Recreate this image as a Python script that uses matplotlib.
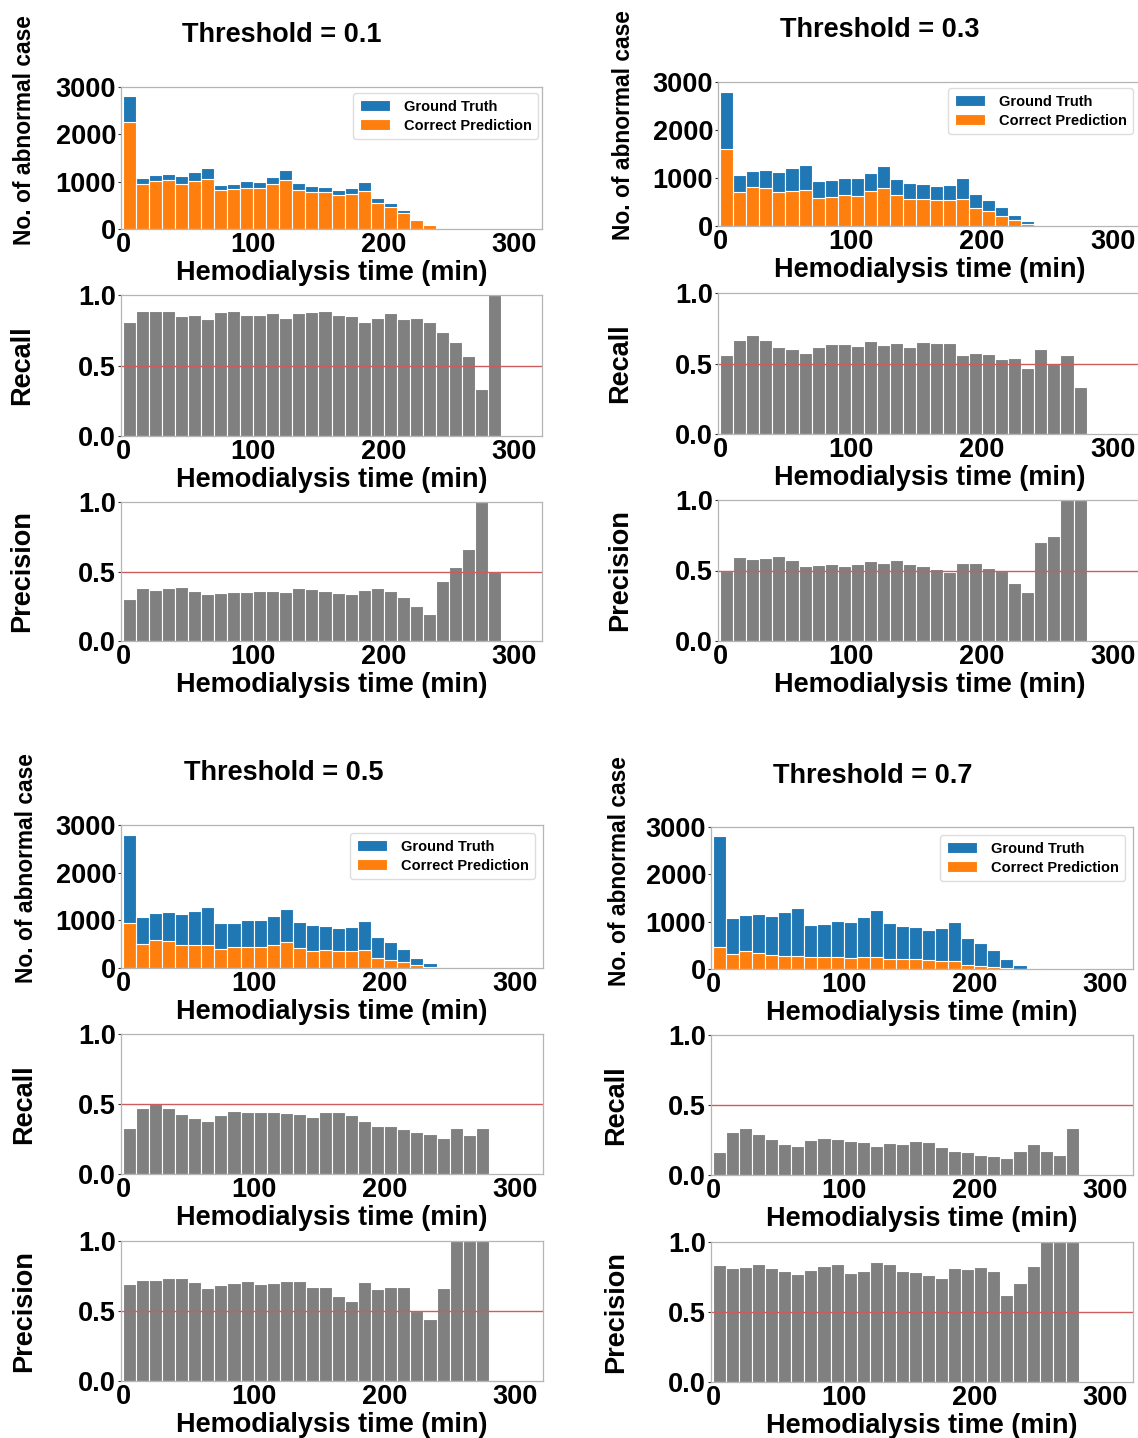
import numpy as np
import matplotlib
matplotlib.use("Agg")
import matplotlib.pyplot as plt

plt.rcParams["font.family"] = ["Liberation Sans", "DejaVu Sans"]
plt.rcParams["font.weight"] = "bold"

# ---- data: 10-minute bins of hemodialysis time ----
bin_width = 10
thresholds = [0.1, 0.3, 0.5, 0.7]

ground_truth = [2800, 1070, 1150, 1170, 1130, 1200, 1280, 940, 950, 1010,
                1000, 1100, 1240, 970, 900, 880, 830, 860, 990, 660,
                550, 400, 220, 95, 23, 9, 7, 3, 1]

correct_t01 = [2270, 950, 1010, 1030, 960, 1020, 1050, 820, 840, 860,
               860, 950, 1040, 830, 780, 780, 710, 730, 800, 550,
               475, 330, 185, 80, 17, 6, 4, 1, 1]
correct_t03 = [1610, 715, 810, 790, 715, 730, 745, 585, 610, 645,
               625, 730, 790, 640, 570, 560, 540, 540, 560, 380,
               310, 210, 120, 50, 14, 4, 4, 1, 0]
correct_t05 = [935, 500, 585, 565, 480, 480, 485, 400, 435, 450,
               450, 485, 550, 420, 365, 380, 360, 360, 380, 210,
               175, 120, 55, 20, 6, 3, 2, 1, 0]
correct_t07 = [455, 325, 385, 335, 290, 270, 270, 245, 255, 260,
               240, 260, 260, 220, 205, 210, 190, 175, 160, 90,
               70, 45, 30, 10, 5, 2, 1, 1, 0]

recall_t01 = [0.81, 0.89, 0.89, 0.89, 0.85, 0.86, 0.83, 0.88, 0.89, 0.86,
              0.86, 0.87, 0.84, 0.87, 0.88, 0.89, 0.86, 0.85, 0.81, 0.84,
              0.87, 0.83, 0.84, 0.81, 0.74, 0.67, 0.57, 0.33, 1.0]
recall_t03 = [0.56, 0.665, 0.70, 0.67, 0.62, 0.60, 0.575, 0.615, 0.635, 0.635,
              0.625, 0.66, 0.63, 0.645, 0.62, 0.655, 0.645, 0.645, 0.56, 0.575,
              0.565, 0.53, 0.54, 0.47, 0.60, 0.495, 0.56, 0.33]
recall_t05 = [0.33, 0.47, 0.50, 0.47, 0.43, 0.40, 0.38, 0.42, 0.45, 0.44,
              0.44, 0.44, 0.435, 0.43, 0.41, 0.44, 0.44, 0.42, 0.38, 0.34,
              0.34, 0.32, 0.30, 0.285, 0.26, 0.33, 0.28, 0.33]
recall_t07 = [0.165, 0.31, 0.335, 0.29, 0.255, 0.225, 0.21, 0.25, 0.265, 0.26,
              0.245, 0.235, 0.21, 0.23, 0.22, 0.245, 0.235, 0.20, 0.17, 0.165,
              0.14, 0.135, 0.125, 0.17, 0.22, 0.17, 0.14, 0.335]

precision_t01 = [0.305, 0.38, 0.37, 0.38, 0.385, 0.36, 0.34, 0.345, 0.355, 0.35,
                 0.36, 0.36, 0.355, 0.38, 0.375, 0.36, 0.345, 0.34, 0.37, 0.38,
                 0.36, 0.32, 0.25, 0.195, 0.43, 0.53, 0.66, 1.0, 0.5]
precision_t03 = [0.50, 0.595, 0.58, 0.59, 0.60, 0.575, 0.53, 0.54, 0.545, 0.53,
                 0.545, 0.565, 0.555, 0.575, 0.545, 0.53, 0.51, 0.49, 0.55, 0.55,
                 0.515, 0.495, 0.41, 0.345, 0.70, 0.745, 1.0, 1.0]
precision_t05 = [0.69, 0.72, 0.72, 0.735, 0.735, 0.71, 0.665, 0.685, 0.70, 0.715,
                 0.69, 0.70, 0.715, 0.715, 0.675, 0.675, 0.61, 0.575, 0.705, 0.66,
                 0.67, 0.675, 0.50, 0.445, 0.665, 1.0, 1.0, 1.0]
precision_t07 = [0.835, 0.815, 0.825, 0.84, 0.815, 0.79, 0.775, 0.80, 0.83, 0.84,
                 0.78, 0.795, 0.855, 0.845, 0.795, 0.785, 0.765, 0.74, 0.815, 0.81,
                 0.825, 0.795, 0.625, 0.71, 0.83, 1.0, 1.0, 1.0]

correct_all = [correct_t01, correct_t03, correct_t05, correct_t07]
recall_all = [recall_t01, recall_t03, recall_t05, recall_t07]
precision_all = [precision_t01, precision_t03, precision_t05, precision_t07]

# ---- layout (pixel boxes: left, top, right, bottom) ----
W, H = 1138, 1438
fig = plt.figure(figsize=(W / 100, H / 100), dpi=100)

panel_boxes = [
    [(121, 87, 542, 229), (121, 295, 542, 436), (121, 502, 542, 641)],
    [(718, 82, 1141, 226), (718, 293, 1141, 434), (718, 500, 1141, 641)],
    [(121, 825, 543, 968), (121, 1034, 543, 1174), (121, 1241, 543, 1381)],
    [(711, 827, 1133, 969), (711, 1035, 1133, 1175), (711, 1242, 1133, 1382)],
]
title_pos = [(282, 35), (880, 30), (284, 773), (873, 776)]
ylabel_x = [22, 620, 24, 616]
count_label_shift = 3
count_label_y = [130, 125, 868, 871]
legend_corner = [(538, 93), (1133, 88), (535, 833), (1125, 835)]

GT_COLOR = "#1f77b4"
CP_COLOR = "#ff7f0e"
BAR_GRAY = "#808080"
SPINE = "#b5b5b5"
XLIM = (-1.5, 321.5)
FS = 19.5


def px_axes(box):
    l, t, r, b = box
    return fig.add_axes([l / W, 1 - b / H, (r - l) / W, (b - t) / H])


def style(ax, box, lab_x, lab_y=None):
    for s in ax.spines.values():
        s.set_color(SPINE)
        s.set_linewidth(0.9)
    ax.set_xlim(*XLIM)
    ax.set_xticks([0, 100, 200, 300])
    ax.tick_params(axis="x", length=0, pad=2.5, labelsize=FS)
    ax.tick_params(axis="y", length=2.5, width=0.8, pad=1, labelsize=FS,
                   color="#333333")
    for lab in ax.get_xticklabels() + ax.get_yticklabels():
        lab.set_fontweight("bold")
    ax.set_xlabel("Hemodialysis time (min)", fontsize=FS, fontweight="bold",
                  labelpad=1)
    l, t, r, b = box
    fy = 0.5 if lab_y is None else (b - lab_y) / (b - t)
    ax.yaxis.set_label_coords((lab_x - l) / (r - l), fy)


for i, thr in enumerate(thresholds):
    n_gt = len(ground_truth)
    edges = np.arange(n_gt) * bin_width

    # counts: ground truth with correct predictions overlaid
    ax = px_axes(panel_boxes[i][0])
    ax.bar(edges, ground_truth, width=bin_width, align="edge", color=GT_COLOR,
           edgecolor="white", linewidth=0.8, label="Ground Truth")
    ax.bar(edges, correct_all[i], width=bin_width, align="edge", color=CP_COLOR,
           edgecolor="white", linewidth=0.8, label="Correct Prediction")
    ax.set_ylim(0, 3000)
    ax.set_yticks([0, 1000, 2000, 3000])
    ax.set_ylabel("No. of abnormal case", fontsize=16.4, fontweight="bold",
                  va="center")
    style(ax, panel_boxes[i][0], ylabel_x[i] + count_label_shift,
          count_label_y[i])
    l, t, r, b = panel_boxes[i][0]
    cx, cy = legend_corner[i]
    ax.legend(loc="upper right",
              bbox_to_anchor=((cx - l) / (r - l), (b - cy) / (b - t)),
              borderaxespad=0, prop={"size": 10.5, "weight": "bold"},
              handlelength=2.1, handleheight=0.75, labelspacing=0.35,
              borderpad=0.45, handletextpad=0.9, edgecolor="#dddddd",
              fancybox=True, framealpha=1)

    fig.text(title_pos[i][0] / W, 1 - title_pos[i][1] / H,
             f"Threshold = {thr}", fontsize=FS, fontweight="bold",
             ha="center", va="center")

    # recall and precision per bin
    for j, (vals, name) in enumerate([(recall_all[i], "Recall"),
                                      (precision_all[i], "Precision")], start=1):
        ax = px_axes(panel_boxes[i][j])
        ax.bar(np.arange(len(vals)) * bin_width, vals, width=bin_width,
               align="edge", color=BAR_GRAY, edgecolor="white", linewidth=0.8)
        ax.axhline(0.5, color="#cd5c5c", linewidth=1.0)
        ax.set_ylim(0, 1.0)
        ax.set_yticks([0.0, 0.5, 1.0])
        ax.set_ylabel(name, fontsize=FS, fontweight="bold", va="center")
        style(ax, panel_boxes[i][j], ylabel_x[i])

fig.savefig("out.png", dpi=100)
